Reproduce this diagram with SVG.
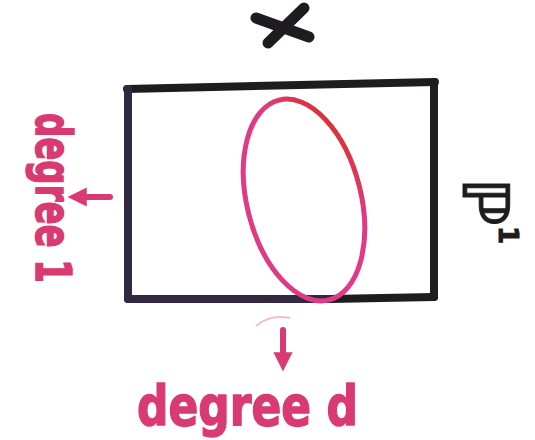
<svg xmlns="http://www.w3.org/2000/svg" width="535" height="440" viewBox="0 0 535 440">
  <style>
    .ink { fill: none; stroke-linecap: round; stroke-linejoin: round; }
    .dark { stroke: #1e1c20; stroke-width: 8; }
    .purple { stroke: #322842; stroke-width: 8; }
    .pink { fill: #d93a72; stroke: #d93a72; stroke-width: 1.5; stroke-linejoin: round; font-family: "DejaVu Sans", sans-serif; font-weight: bold; }
    .blk { fill: #1e1c20; stroke: #1e1c20; stroke-width: 1; font-family: "DejaVu Sans", sans-serif; font-weight: bold; }
    .arrow { fill: none; stroke: #d93a72; stroke-width: 6; stroke-linecap: round; }
  </style>
  <defs>
    <linearGradient id="ovalGrad" x1="0" y1="1" x2="1" y2="0">
      <stop offset="0" stop-color="#e03a86"/>
      <stop offset="0.66" stop-color="#e03a86"/>
      <stop offset="0.86" stop-color="#d8343a"/>
      <stop offset="1" stop-color="#d42a1e"/>
    </linearGradient>
    <marker id="head" viewBox="0 0 10 10" refX="3" refY="5" markerWidth="3.2" markerHeight="3.2" orient="auto" markerUnits="strokeWidth">
      <path d="M0,0 L10,5 L0,10 Z" fill="#d93a72"/>
    </marker>
  </defs>
  <rect width="535" height="440" fill="#ffffff"/>

  <g id="frame">
    <line class="ink dark" x1="127" y1="89" x2="435" y2="82"/>
    <line class="ink dark" x1="434" y1="82" x2="434" y2="297"/>
    <line class="ink dark" x1="434" y1="297" x2="330" y2="299"/>
    <line class="ink purple" x1="330" y1="299" x2="128" y2="299"/>
    <line class="ink purple" x1="128" y1="299" x2="128" y2="89"/>
  </g>

  <g id="oval">
    <ellipse cx="304" cy="200" rx="57" ry="103" transform="rotate(-14 304 200)" fill="none" stroke="url(#ovalGrad)" stroke-width="5"/>
  </g>

  <g id="label-X">
    <line class="ink" stroke="#1e1c20" stroke-width="11" x1="256" y1="18" x2="309" y2="37"/>
    <line class="ink" stroke="#1e1c20" stroke-width="11" x1="304" y1="8" x2="268" y2="43"/>
  </g>

  <g id="label-P1">
    <text class="blk" font-size="64" transform="translate(463,178) rotate(90)">ℙ<tspan font-size="26" dy="-36">1</tspan></text>
  </g>

  <g id="label-degree1">
    <text class="pink" font-size="50" textLength="170" lengthAdjust="spacingAndGlyphs" transform="translate(36,113) rotate(90)">degree 1</text>
  </g>

  <g id="label-degreed">
    <text class="pink" font-size="56" x="137" y="425" textLength="221" lengthAdjust="spacingAndGlyphs">degree d</text>
  </g>

  <g id="connectors">
    <path d="M256,326 Q270,314 290,318" fill="none" stroke="#f4bcd2" stroke-width="2"/>
    <line class="arrow" x1="283" y1="330" x2="283" y2="358" marker-end="url(#head)"/>
    <line class="arrow" x1="110" y1="197" x2="81" y2="197" marker-end="url(#head)"/>
  </g>
</svg>
